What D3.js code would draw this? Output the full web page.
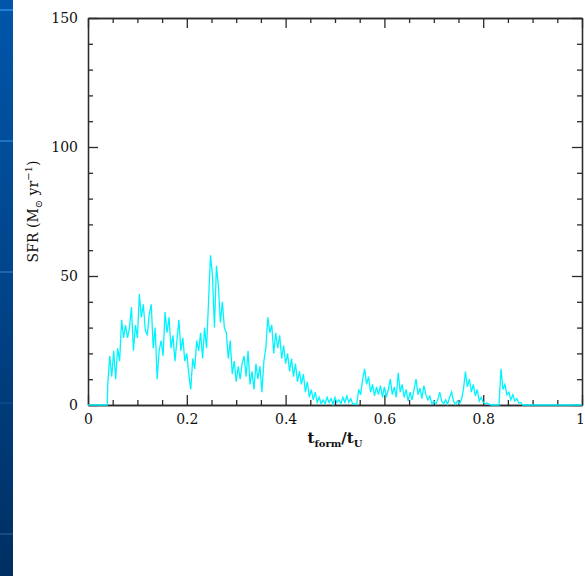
<!DOCTYPE html>
<html>
<head>
<meta charset="utf-8">
<script src="https://cdn.jsdelivr.net/npm/d3@7"></script>
<style>
  html, body { margin: 0; padding: 0; background: #ffffff; }
  svg { display: block; }
</style>
</head>
<body>
<svg id="chart" width="585" height="576"></svg>
<script>
// Star formation rate history sampled every 0.004 in t_form / t_U, from 0.040 to 0.880
const sampleStart = 0.040;
const sampleStep = 0.004;
const sfrValues = [
  8, 19, 11, 21, 10, 22, 17, 33, 26, 31,
  26, 30, 38, 21, 31, 26, 43, 34, 39, 29,
  27, 35, 39, 22, 30, 10, 21, 25, 19, 36,
  28, 34, 22, 27, 17, 25, 33, 21, 26, 17,
  20, 12, 6, 18, 14, 25, 21, 28, 18, 30,
  22, 40, 58, 50, 30, 54, 46, 32, 40, 30,
  28, 18, 25, 12, 17, 9, 15, 10, 16, 19,
  11, 21, 8, 13, 6, 16, 10, 15, 5, 17,
  22, 34, 28, 31, 20, 28, 22, 27, 18, 23,
  16, 20, 13, 18, 11, 16, 9, 13, 8, 12,
  5, 9, 3, 6, 2, 5, 1, 3, 0.5, 2,
  0.5, 3, 1, 2.5, 0.3, 3, 1, 2, 0.5, 3,
  1, 3.5, 1, 2.5, 0.3, 0.5, 0.2, 6, 4, 10,
  14, 8, 11, 5, 8, 3.5, 7, 4, 7.5, 3,
  7, 3, 6, 10, 4, 7, 3, 12.5, 5, 8,
  3, 6, 1.5, 5, 2, 6, 10, 4, 6.5, 2.5,
  7.5, 4, 2, 3.5, 0.5, 1.5, 0.3, 2, 5, 1.5,
  0.5, 2, 0.3, 3, 5, 1.5, 0.3, 1.5, 0.5, 2,
  6, 13, 7, 10, 5, 8, 3.5, 6, 1.5, 3,
  1, 0.5, 0.8, 0.3, 0, 0, 0, 0, 0, 14,
  6, 8, 4, 5, 2, 4, 1.5, 2.5, 0.8, 1, 0
];
// Zero-rate stretches before the first and after the last star formation
const leadIn = [{ t: 0, v: 0 }, { t: 0.039, v: 0 }];
const tail = [{ t: 1, v: 0 }];

const xMajorTicks = [0, 0.2, 0.4, 0.6, 0.8, 1];
const xMajorLabels = ["0", "0.2", "0.4", "0.6", "0.8", "1"];
const xMinorTicks = [0.05, 0.1, 0.15, 0.25, 0.3, 0.35, 0.45, 0.5, 0.55, 0.65, 0.7, 0.75, 0.85, 0.9, 0.95];
const yMajorTicks = [0, 50, 100, 150];
const yMajorLabels = ["0", "50", "100", "150"];
const yMinorTicks = [10, 20, 30, 40, 60, 70, 80, 90, 110, 120, 130, 140];
const stripeRules = [10, 141, 272, 403, 534];

const svg = d3.select("#chart");
const W = 585, H = 576;
const plot = { left: 88, right: 582, top: 18, bottom: 405 };

// Slide background strip on the left edge
const defs = svg.append("defs");
const grad = defs.append("linearGradient").attr("id", "strip")
  .attr("x1", 0).attr("y1", 0).attr("x2", 0).attr("y2", 1);
grad.append("stop").attr("offset", "0%").attr("stop-color", "#0056aa");
grad.append("stop").attr("offset", "50%").attr("stop-color", "#00448a");
grad.append("stop").attr("offset", "100%").attr("stop-color", "#002f62");
svg.append("rect").attr("x", 0).attr("y", 0).attr("width", 13).attr("height", H)
  .attr("fill", "url(#strip)");
svg.append("g").selectAll("rect").data(stripeRules).join("rect")
  .attr("x", 0).attr("width", 13).attr("y", d => d - 1).attr("height", 2)
  .attr("fill", (d, i) => d3.interpolateRgb("#2a86e0", "#1d4f86")(i / (stripeRules.length - 1)))
  .attr("opacity", (d, i) => i === 3 ? 0.35 : 0.85);

const x = d3.scaleLinear().domain([0, 1]).range([plot.left, plot.right]);
const y = d3.scaleLinear().domain([0, 150]).range([plot.bottom, plot.top]);

const axisColor = "#2b2b2b";
const tickFont = "'DejaVu Serif', 'Liberation Serif', serif";

function styleAxis(g) {
  g.selectAll("path.domain").attr("stroke", axisColor).attr("stroke-width", 1.3);
  g.selectAll(".tick line").attr("stroke", axisColor).attr("stroke-width", 1.3);
  g.selectAll(".tick text").attr("fill", "#111").style("font-family", tickFont).style("font-size", "14px");
}

// Bottom axis: inward ticks, labels below
svg.append("g").attr("transform", `translate(0,${plot.bottom})`)
  .call(d3.axisBottom(x).tickValues(xMinorTicks).tickSize(-5).tickSizeOuter(0).tickFormat(""))
  .call(styleAxis);
svg.append("g").attr("transform", `translate(0,${plot.bottom})`)
  .call(d3.axisBottom(x).tickValues(xMajorTicks).tickSize(-10).tickSizeOuter(0)
    .tickPadding(8).tickFormat((d, i) => xMajorLabels[i]))
  .call(styleAxis)
  .call(g => g.selectAll(".tick text").attr("y", 9).attr("dy", "0.71em"))
  // keep the last label inside the page edge
  .call(g => g.selectAll(".tick text").filter(d => d === 1).attr("x", -2));

// Top axis: inward ticks, no labels
svg.append("g").attr("transform", `translate(0,${plot.top})`)
  .call(d3.axisTop(x).tickValues(xMinorTicks).tickSize(-5).tickSizeOuter(0).tickFormat(""))
  .call(styleAxis);
svg.append("g").attr("transform", `translate(0,${plot.top})`)
  .call(d3.axisTop(x).tickValues(xMajorTicks).tickSize(-10).tickSizeOuter(0).tickFormat(""))
  .call(styleAxis);

// Left axis: inward ticks, labels to the left
svg.append("g").attr("transform", `translate(${plot.left},0)`)
  .call(d3.axisLeft(y).tickValues(yMinorTicks).tickSize(-5).tickSizeOuter(0).tickFormat(""))
  .call(styleAxis);
svg.append("g").attr("transform", `translate(${plot.left},0)`)
  .call(d3.axisLeft(y).tickValues(yMajorTicks).tickSize(-10).tickSizeOuter(0)
    .tickFormat((d, i) => yMajorLabels[i]))
  .call(styleAxis)
  .call(g => g.selectAll(".tick text").attr("x", -10));

// Right axis: inward ticks, no labels
svg.append("g").attr("transform", `translate(${plot.right},0)`)
  .call(d3.axisRight(y).tickValues(yMinorTicks).tickSize(-5).tickSizeOuter(0).tickFormat(""))
  .call(styleAxis);
svg.append("g").attr("transform", `translate(${plot.right},0)`)
  .call(d3.axisRight(y).tickValues(yMajorTicks).tickSize(-10).tickSizeOuter(0).tickFormat(""))
  .call(styleAxis);

// SFR history
const series = leadIn
  .concat(sfrValues.map((v, i) => ({ t: sampleStart + i * sampleStep, v })))
  .concat(tail);
const line = d3.line().x(d => x(d.t)).y(d => y(d.v)).curve(d3.curveLinear);
svg.append("path").datum(series)
  .attr("d", line)
  .attr("fill", "none")
  .attr("stroke", "#00f4ff")
  .attr("stroke-width", 1.3)
  .attr("stroke-linejoin", "miter");

// Axis titles
const xTitle = svg.append("text")
  .attr("x", (plot.left + plot.right) / 2).attr("y", 443)
  .attr("text-anchor", "middle")
  .style("font-family", tickFont).style("font-size", "15px").style("font-weight", "bold")
  .attr("fill", "#111");
xTitle.append("tspan").text("t");
xTitle.append("tspan").attr("dy", 4).style("font-size", "10px").text("form");
xTitle.append("tspan").attr("dy", -4).text("/t");
xTitle.append("tspan").attr("dy", 4).style("font-size", "10px").text("U");

const yTitle = svg.append("text")
  .attr("transform", `translate(38,${(plot.top + plot.bottom) / 2}) rotate(-90)`)
  .attr("text-anchor", "middle")
  .style("font-family", tickFont).style("font-size", "14px")
  .attr("fill", "#111");
yTitle.append("tspan").text("SFR (M");
yTitle.append("tspan").attr("dy", 4).style("font-size", "10px").text("⊙");
yTitle.append("tspan").attr("dy", -4).text(" yr");
yTitle.append("tspan").attr("dy", -6).style("font-size", "10px").text("−1");
yTitle.append("tspan").attr("dy", 6).text(")");
</script>
</body>
</html>
